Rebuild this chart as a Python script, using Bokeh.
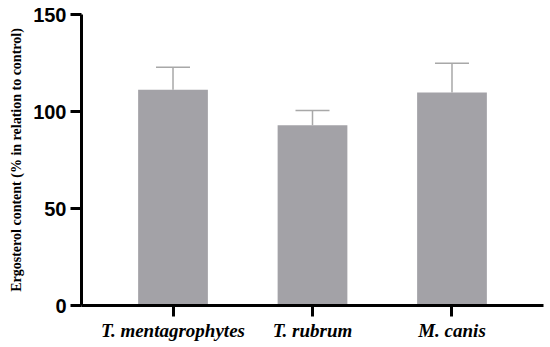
from bokeh.plotting import figure
from bokeh.models import ColumnDataSource, Whisker, TeeHead, FixedTicker, Range1d
from bokeh.embed import file_html
from bokeh.resources import INLINE

categories = ["T. mentagrophytes", "T. rubrum", "M. canis"]
values = [111.2, 92.9, 109.8]
errors = [11.6, 7.6, 15.1]
y_ticks = [0, 50, 100, 150]

xpos = [i + 1 for i in range(len(categories))]
upper = [v + e for v, e in zip(values, errors)]
src = ColumnDataSource(dict(x=xpos, top=values, upper=upper))

p = figure(width=550, height=347, output_backend="svg", toolbar_location=None,
           x_range=Range1d(0.344, 3.656), y_range=Range1d(0, 150),
           min_border_left=81, min_border_right=7, min_border_top=14, min_border_bottom=42)
p.outline_line_color = None
p.grid.visible = False

p.vbar(x="x", top="top", width=0.5, source=src, fill_color="#a3a2a7", line_color=None)
w = Whisker(base="x", upper="upper", lower="top", source=src,
            line_color="#a8a8a8", line_width=1.5,
            upper_head=TeeHead(size=34, line_color="#a8a8a8", line_width=1.5),
            lower_head=None)
p.add_layout(w)

p.xaxis.ticker = FixedTicker(ticks=xpos)
p.xaxis.major_label_overrides = {x: c for x, c in zip(xpos, categories)}
p.yaxis.ticker = FixedTicker(ticks=y_ticks)
p.xaxis.minor_tick_line_color = None
p.yaxis.minor_tick_line_color = None
for ax in (p.xaxis, p.yaxis):
    ax.axis_line_width = 3
    ax.axis_line_color = "black"
    ax.major_tick_line_width = 3
    ax.major_tick_line_color = "black"
    ax.major_tick_out = 11
    ax.major_tick_in = 0

p.yaxis.major_label_text_font = "Liberation Sans"
p.yaxis.major_label_text_font_style = "bold"
p.yaxis.major_label_text_font_size = "20px"
p.yaxis.major_label_text_color = "black"
p.yaxis.major_label_standoff = 4

p.xaxis.major_label_text_font = "Liberation Serif"
p.xaxis.major_label_text_font_style = "bold italic"
p.xaxis.major_label_text_font_size = "19px"
p.xaxis.major_label_text_color = "black"
p.xaxis.major_label_standoff = 3

p.yaxis.axis_label = "Ergosterol content (% in relation to control)"
p.yaxis.axis_label_text_font = "Liberation Serif"
p.yaxis.axis_label_text_font_style = "bold"
p.yaxis.axis_label_text_font_size = "14px"
p.yaxis.axis_label_text_color = "black"
p.yaxis.axis_label_standoff = 6

open("out.html", "w").write(file_html(p, INLINE))
